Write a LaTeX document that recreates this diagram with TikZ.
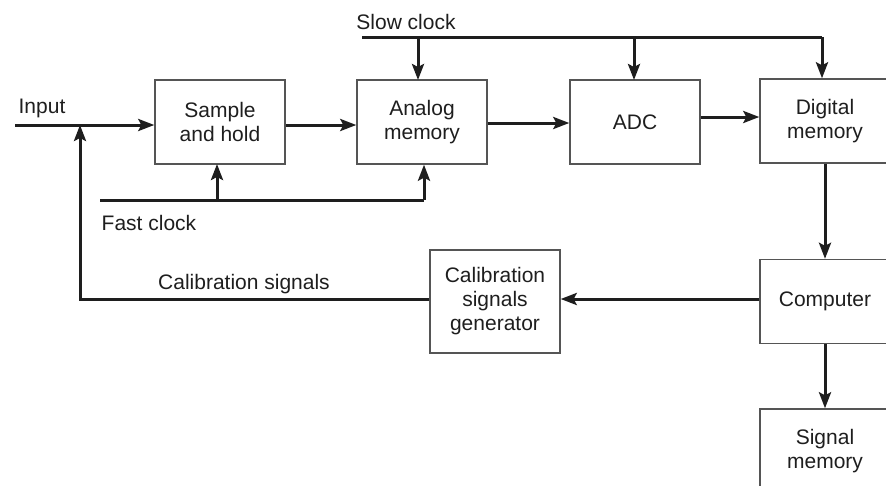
\documentclass[tikz,border=0pt]{standalone}
\usepackage{fontspec}
\setmainfont{Liberation Sans}
\usetikzlibrary{arrows.meta}
\definecolor{ink}{HTML}{1E1E1E}
\definecolor{edge}{HTML}{555555}
\begin{document}
\begin{tikzpicture}[x=1pt,y=-1pt,
  font=\fontsize{21}{24}\selectfont,
  box/.style={draw=edge, line width=1.4pt, minimum width=130pt, minimum height=84pt, align=center, text=ink, inner sep=0pt},
  wire/.style={draw=ink, line width=3pt},
  arr/.style={wire, -{Stealth[length=16pt,width=12pt,inset=3pt]}},
  lbl/.style={text=ink, inner sep=0pt}]
\useasboundingbox (0,0) rectangle (886,485);
\clip (0,0) rectangle (886,485);
% boxes
\node[box] (sh)  at (220,122) {Sample\\and hold};
\node[box] (am)  at (422,122) {Analog\\memory};
\node[box] (adc) at (635,122) {ADC};
\node[box] (dig) at (825,121) {Digital\\memory};
\node[box] (comp) at (825,301.5) {Computer};
\node[box] (sig) at (825,451) {Signal\\memory};
\node[box, minimum height=103pt] (cal) at (495,301.5) {Calibration\\signals\\generator};
% labels
\node[lbl] (tin) at (42,108) {Input};
\node[lbl] (tfc) at (149,223) {Fast clock};
\node[lbl] (tsc) at (406,22) {Slow clock};
\node[lbl] (tcs) at (244,284) {Calibration signals};
% coordinates
\coordinate (in) at (15,125);
\coordinate (j1) at (80,125);
\coordinate (fc) at (100,200);
\coordinate (fcE) at (424,200);
\coordinate (sc) at (362,37);
\coordinate (scE) at (822,37);
% connectors
\draw[arr] (in) -- (in -| sh.west);
\draw[arr] (sh.east |- 0,125) -- (am.west |- 0,125);
\draw[arr] (am.east |- 0,123) -- (adc.west |- 0,123);
\draw[arr] (adc.east |- 0,117) -- (dig.west |- 0,117);
\draw[arr] (cal.west |- 0,299) -| (j1);
\draw[arr] (comp.west |- 0,299) -- (cal.east |- 0,299);
\draw[arr] (dig.south) -- (comp.north);
\draw[arr] (comp.south) -- (sig.north);
% fast clock
\draw[wire] (fc) -- (fcE);
\draw[arr] (fcE) -- (fcE |- am.south);
\draw[arr] (217,200) -- (217,164);
% slow clock
\draw[wire] (sc) -- (scE);
\draw[arr] (scE) -- (scE |- dig.north);
\draw[arr] (418,37) -- (418,80);
\draw[arr] (634,37) -- (634,80);
\end{tikzpicture}
\end{document}
